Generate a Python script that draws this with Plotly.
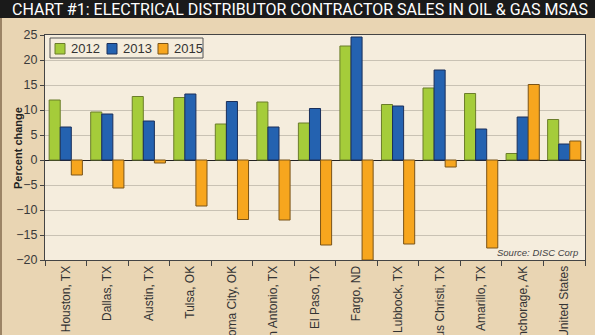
import plotly.graph_objects as go

categories = ["Houston, TX", "Dallas, TX", "Austin, TX", "Tulsa, OK", "Oklahoma City, OK",
              "San Antonio, TX", "El Paso, TX", "Fargo, ND", "Lubbock, TX", "Corpus Christi, TX",
              "Amarillo, TX", "Anchorage, AK", "United States"]
s2012 = [12.0, 9.6, 12.7, 12.5, 7.2, 11.6, 7.4, 22.8, 11.1, 14.4, 13.3, 1.3, 8.1]
s2013 = [6.6, 9.2, 7.8, 13.2, 11.7, 6.6, 10.3, 24.6, 10.8, 18.0, 6.2, 8.6, 3.2]
s2015 = [-3.0, -5.6, -0.6, -9.2, -11.9, -12.0, -17.0, -20.0, -16.8, -1.4, -17.6, 15.1, 3.8]
series_names = ["2012", "2013", "2015"]
y_ticks = [-20, -15, -10, -5, 0, 5, 10, 15, 20, 25]

colors = ["#a5cc3a", "#2462b0", "#f7a61e"]
outlines = ["#6b7d2a", "#1a2f5a", "#7a5418"]

W, H = 595, 335
ml, mr, mt, mb = 45, 10, 35, 75
PW, PH = W - ml - mr, H - mt - mb


def px(x):
    return (x - ml) / PW


def py(y):
    return 1 - (y - mt) / PH


fig = go.Figure()
for name, vals, c, o in zip(series_names, [s2012, s2013, s2015], colors, outlines):
    fig.add_trace(go.Bar(x=categories, y=vals, name=name,
                         marker=dict(color=c, line=dict(color=o, width=1))))

fig.update_layout(
    width=W, height=H, template="none",
    margin=dict(l=ml, r=mr, t=mt, b=mb, pad=0),
    paper_bgcolor="#e9d5b3", plot_bgcolor="#f5eddd",
    barmode="group", bargap=0.2, bargroupgap=0,
    font=dict(family="Liberation Sans, Arial, sans-serif", size=12, color="#333333"),
    showlegend=False,
    xaxis=dict(automargin=False, tickangle=-90, showgrid=False, ticks="outside",
               ticklen=5, tickcolor="#444444", tickson="boundaries",
               showline=True, linecolor="#444444", mirror=True, linewidth=1,
               tickfont=dict(size=12, color="#333333")),
    yaxis=dict(automargin=False, range=[-20, 25], tickvals=y_ticks, ticks="outside",
               ticklen=4, tickcolor="#444444", showgrid=True, gridcolor="#c9c2b4",
               gridwidth=1, zeroline=True, zerolinecolor="#222222", zerolinewidth=1,
               showline=True, linecolor="#444444", mirror=True, linewidth=1,
               tickfont=dict(size=12.5, color="#3a3a3a")),
)

# Title bar
fig.add_shape(type="rect", xref="paper", yref="paper",
              x0=px(0), x1=px(W), y0=py(18), y1=py(0),
              fillcolor="#1a1a1a", line=dict(width=0), layer="above")
# left edge line
fig.add_shape(type="rect", xref="paper", yref="paper",
              x0=px(0), x1=px(2), y0=py(H), y1=py(18),
              fillcolor="#9c8466", line=dict(width=0), layer="above")
fig.add_annotation(text="CHART #1: ELECTRICAL DISTRIBUTOR CONTRACTOR SALES IN OIL &amp; GAS MSAS",
                   xref="paper", yref="paper", x=px(10), y=py(9.5),
                   xanchor="left", yanchor="middle", showarrow=False,
                   font=dict(family="Roboto, Liberation Sans, sans-serif",
                             size=16, color="#ffffff"))

# Y-axis title
fig.add_annotation(text="<b>Percent change</b>", xref="paper", yref="paper",
                   x=px(18), y=py(148), textangle=-90, showarrow=False,
                   xanchor="center", yanchor="middle",
                   font=dict(size=11, color="#222222"))

# Legend (drawn manually to match the compact box)
fig.add_shape(type="rect", xref="paper", yref="paper",
              x0=px(50), x1=px(203), y0=py(58), y1=py(38),
              fillcolor="#f5eddd", line=dict(color="#555555", width=1))
sq_x = [55, 107, 158]
for name, c, o, sx in zip(series_names, colors, outlines, sq_x):
    fig.add_shape(type="rect", xref="paper", yref="paper",
                  x0=px(sx), x1=px(sx + 10), y0=py(54), y1=py(43.5),
                  fillcolor=c, line=dict(color=o, width=1))
    fig.add_annotation(text=name, xref="paper", yref="paper",
                       x=px(sx + 14), y=py(48.5), xanchor="left", yanchor="middle",
                       showarrow=False, font=dict(size=13, color="#333333"))

fig.add_annotation(text="<i>Source: DISC Corp</i>", xref="paper", yref="paper",
                   x=px(580), y=py(252), xanchor="right", yanchor="middle", showarrow=False,
                   font=dict(size=9.5, color="#444444"))

fig.write_html("out.html")
